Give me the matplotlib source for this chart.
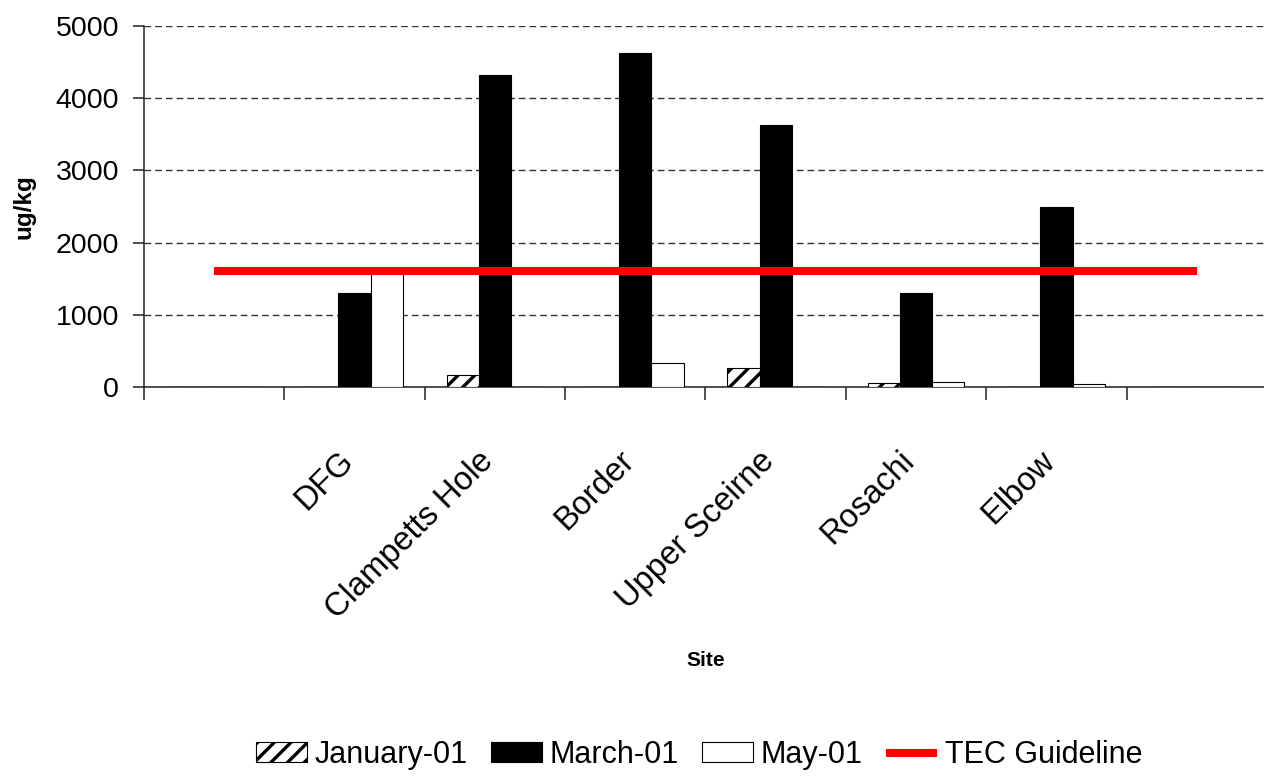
import numpy as np
import matplotlib
matplotlib.use("Agg")
import matplotlib.pyplot as plt
from matplotlib.patches import Patch
from matplotlib.lines import Line2D
from matplotlib.transforms import ScaledTranslation

plt.rcParams["font.family"] = ["Liberation Sans", "DejaVu Sans"]
plt.rcParams["hatch.linewidth"] = 2.4
plt.rcParams["hatch.color"] = "black"

# site names (blank slots at both ends of the category axis)
sites = ["", "DFG", "Clampetts Hole", "Border", "Upper Sceirne", "Rosachi", "Elbow", ""]

# concentrations, ug/kg
jan_01 = [0, 0, 170, 0, 260, 50, 0, 0]
mar_01 = [0, 1300, 4320, 4620, 3630, 1300, 2490, 0]
may_01 = [0, 1600, 0, 330, 0, 75, 40, 0]
tec_guideline = 1610

x = np.arange(len(sites))
w = 0.23

fig = plt.figure(figsize=(12.64, 7.76), dpi=100)
ax = fig.add_axes([144 / 1264, 389 / 776, 1123 / 1264, 361 / 776])

ax.bar(x - w, jan_01, w, color="white", edgecolor="black", linewidth=0.8,
       hatch="//", zorder=3, label="January-01")
ax.bar(x, mar_01, w, color="black", edgecolor="black", linewidth=0.8,
       zorder=3, label="March-01")
ax.bar(x + w, may_01, w, color="white", edgecolor="black", linewidth=0.8,
       zorder=3, label="May-01")
ax.plot(x, [tec_guideline] * len(x), color="#ff0000", linewidth=5.8,
        solid_capstyle="butt", zorder=4, label="TEC Guideline")

ax.set_xlim(-0.5, len(sites) - 0.5)
ax.set_ylim(0, 5000)
ax.set_yticks(np.arange(0, 5001, 1000))
ax.yaxis.grid(True, color="#333333", linestyle=(0, (4.8, 2.9)), linewidth=1.0)
ax.set_axisbelow(True)

for s in ["top", "right"]:
    ax.spines[s].set_visible(False)
for s in ["left", "bottom"]:
    ax.spines[s].set_linewidth(1.1)
    ax.spines[s].set_color("#222222")

# category labels in the middle, tick marks on the boundaries
ax.set_xticks(x)
ax.set_xticklabels(sites, rotation=45, ha="right", va="baseline",
                   rotation_mode="anchor", fontsize=23.5)
shift = ScaledTranslation(0.10, 0, fig.dpi_scale_trans)
for lab in ax.get_xticklabels():
    lab.set_transform(lab.get_transform() + shift)
ax.set_xticks(np.arange(-0.5, len(sites), 1.0), minor=True)
ax.tick_params(axis="x", which="major", length=0, pad=54)
ax.tick_params(axis="x", which="minor", length=9.5, width=1.1,
               direction="out", color="#222222")
ax.tick_params(axis="y", length=8, width=1.1, direction="out",
               color="#222222", labelsize=20.5, pad=10)

ax.set_ylabel("ug/kg", fontsize=17.5, fontweight="bold")
ax.yaxis.set_label_coords(-0.097, 0.5)
ax.set_xlabel("Site", fontsize=15, fontweight="bold", va="top")
ax.xaxis.set_label_coords(0.5, -0.73)

handles = [
    Patch(facecolor="white", edgecolor="black", hatch="//", linewidth=0.8),
    Patch(facecolor="black", edgecolor="black", linewidth=0.8),
    Patch(facecolor="white", edgecolor="black", linewidth=0.8),
    Line2D([0], [0], color="#ff0000", linewidth=5.8, solid_capstyle="butt"),
]
labels = ["January-01", "March-01", "May-01", "TEC Guideline"]
fig.legend(handles, labels, loc="center", bbox_to_anchor=(0.553, 0.027),
           ncol=4, frameon=False, fontsize=22, handlelength=1.68,
           handleheight=0.62, handletextpad=0.25, columnspacing=0.75,
           borderpad=0)

fig.savefig("out.png", dpi=100)
